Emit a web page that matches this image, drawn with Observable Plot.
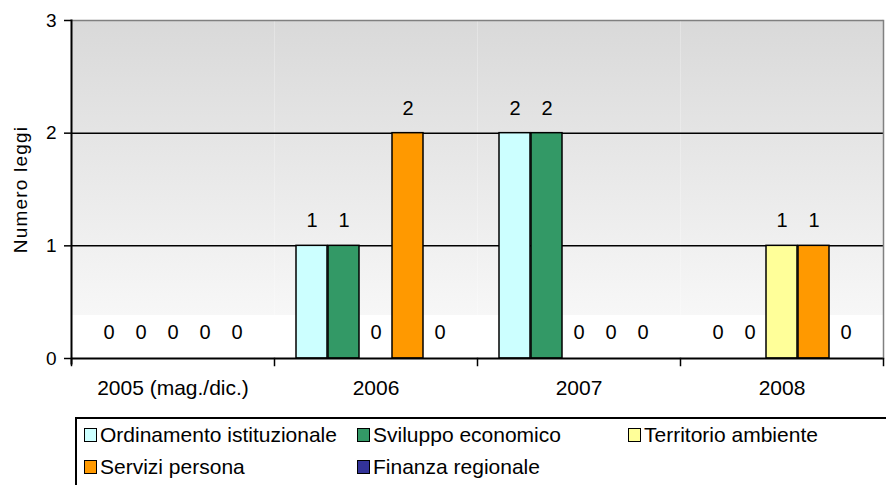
<!DOCTYPE html>
<html><head><meta charset="utf-8">
<script src="https://cdn.jsdelivr.net/npm/d3@7"></script>
<script src="https://cdn.jsdelivr.net/npm/@observablehq/plot@0.6"></script>
<style>
body{margin:0;background:#fff;width:886px;height:485px;overflow:hidden;position:relative;font-family:"Liberation Sans",Arial,sans-serif;}
#chart{position:absolute;left:0;top:0;}
#chart svg [aria-label="y-axis label"] text{letter-spacing:1.2px;}
#legend{position:absolute;left:75px;top:417px;width:830px;height:80px;border:2px solid #000;box-sizing:border-box;}
.item{position:absolute;display:flex;align-items:center;height:24px;font-size:21px;color:#000;white-space:nowrap;}
.sw{width:11px;height:12px;border:1.5px solid #000;margin-right:3px;}
</style></head><body>
<div id="chart"></div><div id="legend"></div>
<script>
const years = ["2005 (mag./dic.)", "2006", "2007", "2008"];
const series = ["Ordinamento istituzionale", "Sviluppo economico", "Territorio ambiente", "Servizi persona", "Finanza regionale"];
const colors = ["#ccffff", "#339966", "#ffff99", "#ff9900", "#333399"];
const ordinamento = [0, 1, 2, 0];
const sviluppo = [0, 1, 2, 0];
const territorio = [0, 0, 0, 1];
const servizi = [0, 2, 0, 1];
const finanza = [0, 0, 0, 0];
const yTicks = [0, 1, 2, 3];
const yLabel = "Numero leggi";

const valuesBySeries = [ordinamento, sviluppo, territorio, servizi, finanza];
const data = [];
years.forEach((y, i) => series.forEach((s, j) => data.push({year: y, series: s, value: valuesBySeries[j][i]})));

const H = 410, mTop = 20, mBottom = 52;
const plotH = H - mTop - mBottom;

const chart = Plot.plot({
  width: 886,
  height: H,
  marginLeft: 70,
  marginRight: 3,
  marginTop: mTop,
  marginBottom: mBottom,
  style: {fontFamily: '"Liberation Sans", Arial, sans-serif', fontSize: "20px", color: "#000", background: "transparent"},
  fx: {domain: years, padding: 0},
  x: {domain: series, paddingInner: 0.04, paddingOuter: 0.65, axis: null},
  y: {domain: [0, 3]},
  color: {domain: series, range: colors},
  marks: [
    Plot.frame({fill: "url(#bgGrad)", stroke: null}),
    Plot.ruleY([1, 2], {stroke: "#000", strokeWidth: 1.5}),
    Plot.ruleY([3], {stroke: "#808080", strokeWidth: 1.5}),
    Plot.barY(data, {filter: d => d.value > 0, fx: "year", x: "series", y: "value", fill: "series", stroke: "#000", strokeWidth: 1.5}),
    Plot.text(data, {filter: d => d.value > 0, fx: "year", x: "series", y: "value", text: d => String(d.value), dy: -25, fontSize: 20, fill: "#000"}),
    Plot.text(data, {filter: d => d.value === 0, fx: "year", x: "series", y: "value", text: d => String(d.value), dy: -26, fontSize: 20, fill: "#000"}),
    Plot.ruleY([0], {stroke: "#000", strokeWidth: 2}),
    Plot.frame({anchor: "left", stroke: "#000", strokeWidth: 1.5, insetTop: plotH, insetBottom: -7}),
    Plot.frame({anchor: "left", stroke: "#000", strokeWidth: 2, facetAnchor: "left", insetBottom: -5}),
    Plot.frame({anchor: "right", stroke: "#808080", strokeWidth: 1.5, facetAnchor: "right"}),
    Plot.frame({anchor: "right", stroke: "#000", strokeWidth: 1.5, facetAnchor: "right", insetTop: plotH, insetBottom: -7}),
    Plot.axisY({ticks: yTicks, tickSize: 7, tickPadding: 8, fontSize: 19, tickFormat: d => String(d), stroke: "#000", strokeWidth: 1.5, label: yLabel, labelAnchor: "center", labelArrow: false, labelOffset: 58}),
    Plot.axisFx({anchor: "bottom", tickSize: 0, tickPadding: 22, fontSize: 21, label: null})
  ]
});

const svg = d3.select(chart.tagName.toLowerCase() === "svg" ? chart : chart.querySelector("svg"));
const defs = svg.insert("defs", ":first-child");
const g = defs.append("linearGradient").attr("id", "bgGrad").attr("x1", 0).attr("y1", 0).attr("x2", 0).attr("y2", 1);
g.append("stop").attr("offset", 0).attr("stop-color", "#d9d9d9");
g.append("stop").attr("offset", 0.87).attr("stop-color", "#f7f7f7");
g.append("stop").attr("offset", 0.87).attr("stop-color", "#ffffff");
g.append("stop").attr("offset", 1).attr("stop-color", "#ffffff");
document.getElementById("chart").appendChild(chart);

const legend = document.getElementById("legend");
const legendPos = [[7, 4], [280, 4], [551, 4], [7, 36], [280, 36]];
series.forEach((s, j) => {
  const it = document.createElement("div");
  it.className = "item";
  it.style.left = legendPos[j][0] + "px";
  it.style.top = legendPos[j][1] + "px";
  const sw = document.createElement("span");
  sw.className = "sw";
  sw.style.background = colors[j];
  it.appendChild(sw);
  it.appendChild(document.createTextNode(s));
  legend.appendChild(it);
});
</script>
</body></html>
